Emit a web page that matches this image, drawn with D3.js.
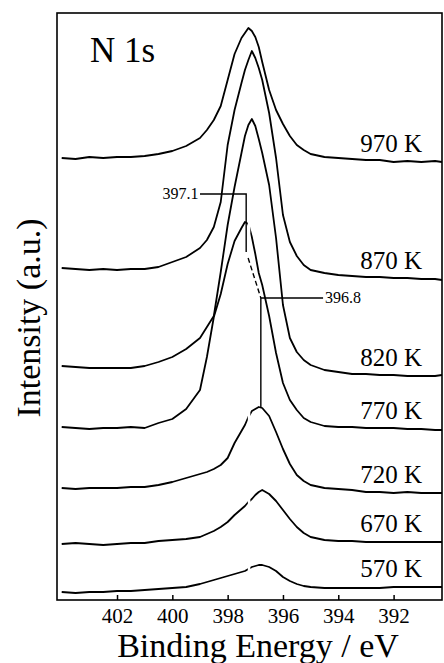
<!DOCTYPE html>
<html>
<head>
<meta charset="utf-8">
<script src="https://cdn.jsdelivr.net/npm/d3@7"></script>
<style>
  body { margin: 0; background: #fff; }
  svg { display: block; }
  svg text { font-family: "Liberation Serif", "Times New Roman", serif; fill: #000; }
</style>
</head>
<body>
<div id="chartCtn"></div>
<script>
// binding energy grid (eV), shared by all spectra
var energies = [404, 403.5, 403, 402.5, 402, 401.5, 401, 400.5, 400, 399.5,
	399, 398.75, 398.5, 398.25, 398, 397.75, 397.5, 397.375, 397.25, 397.125,
	397, 396.875, 396.75, 396.5, 396.25, 396, 395.75, 395.5, 395.25, 395,
	394.5, 394, 393.5, 393, 392.5, 392, 391.5, 391, 390.5, 390.25];

var temps = [ "970 K", "870 K", "820 K", "770 K", "720 K", "670 K", "570 K" ];

// intensities (a.u., stacked offsets included)
var n970 = [442, 441, 443, 442, 443, 443, 444, 446, 449, 454, 462, 470, 480, 494, 520, 546, 562, 567, 572, 569,
	563, 553, 538, 510, 490, 476, 464, 455, 450, 446, 443, 442, 441, 440, 440, 438, 439, 438, 439, 438];
var n870 = [332, 331, 330, 331, 330, 331, 331, 333, 338, 343, 352, 360, 373, 398, 455, 490, 517, 530, 540, 549,
	542, 532, 520, 487, 442, 385, 358, 344, 335, 330, 327, 325, 324, 323, 323, 322, 322, 321, 321, 320];
var n820 = [234, 233, 232, 232, 232, 232, 234, 238, 243, 251, 262, 273, 284, 328, 375, 413, 447, 464, 475, 481,
	474, 461, 447, 415, 362, 295, 262, 248, 240, 235, 230, 228, 226, 226, 225, 225, 224, 224, 224, 225];
var n770 = [173, 172, 171, 172, 172, 173, 172, 177, 181, 191, 210, 243, 283, 306, 336, 359, 372, 378, 376, 363,
	346, 327, 315, 284, 247, 217, 200, 190, 182, 178, 174, 173, 173, 172, 172, 172, 171, 171, 170, 170];
var n720 = [112, 111, 112, 112, 112, 113, 113, 115, 118, 122, 126, 128, 131, 135, 142, 157, 169, 175, 183, 189,
	191, 193, 192, 184, 168, 151, 136, 125, 119, 115, 112, 111, 110, 108, 108, 107, 108, 107, 107, 107];
var n670 = [56, 57, 56, 55, 56, 57, 57, 59, 60, 61, 63, 66, 69, 73, 78, 85, 91, 94, 98, 101,
	105, 108, 110, 106, 99, 90, 81, 73, 67, 63, 60, 59, 59, 58, 58, 58, 58, 58, 58, 58];
var n570 = [8, 7, 8, 8, 9, 9, 10, 11, 12, 13, 16, 18, 20, 22, 24, 26, 28, 29, 31, 33,
	34, 35, 35, 33, 29, 23, 19, 16, 14, 13, 12, 12, 12, 12, 12, 13, 13, 13, 13, 13];

var spectra = [ n970, n870, n820, n770, n720, n670, n570 ];
var xTicks = [ 402, 400, 398, 396, 394, 392 ];

var width = 444, height = 663;
var serif = "Liberation Serif";

var x = d3.scaleLinear()
	.domain( [ 404.17, 390.25 ] )
	.range( [ 57, 442 ] );

var y = d3.scaleLinear()
	.domain( [ 0, 587 ] )
	.range( [ 600, 13 ] );

var svg = d3.select( "#chartCtn" )
	.append( "svg" )
	.attr( "width", width )
	.attr( "height", height );

svg.append( "clipPath" ).attr( "id", "plotClip" )
	.append( "rect" )
	.attr( "x", 57 ).attr( "y", 13 )
	.attr( "width", 385 ).attr( "height", 587 );

var line = d3.line()
	.x( ( d, i ) => x( energies[ i ] ) )
	.y( d => y( d ) );

var plot = svg.append( "g" ).attr( "clip-path", "url(#plotClip)" );

plot.selectAll( "path.spec" )
	.data( spectra )
	.enter()
	.append( "path" )
	.attr( "class", "spec" )
	.attr( "d", line )
	.attr( "fill", "none" )
	.attr( "stroke", "#000" )
	.attr( "stroke-width", 1.8 )
	.attr( "stroke-linejoin", "round" );

// thin white scan gap running down the lower part of the figure
plot.append( "rect" )
	.attr( "x", x( 397.27 ) )
	.attr( "y", y( 380 ) )
	.attr( "width", 2.5 )
	.attr( "height", y( -5 ) - y( 380 ) )
	.attr( "fill", "#fff" );

// temperature labels
svg.selectAll( "text.temp" )
	.data( temps )
	.enter()
	.append( "text" )
	.attr( "class", "temp" )
	.attr( "x", 422 )
	.attr( "y", ( d, i ) => y( spectra[ i ][ 37 ] ) - 10 )
	.attr( "text-anchor", "end" )
	.attr( "font-family", serif )
	.style( "font-size", "25px" )
	.text( d => d );

// peak position markers
var ann = svg.append( "g" )
	.attr( "fill", "none" )
	.attr( "stroke", "#000" )
	.attr( "stroke-width", 1.4 );

ann.append( "path" )
	.attr( "d", d3.line()( [ [ x( 399.0 ), y( 406 ) ], [ x( 397.33 ), y( 406 ) ], [ x( 397.33 ), y( 348 ) ] ] ) );
ann.append( "path" )
	.attr( "stroke-dasharray", "5,3" )
	.attr( "d", d3.line()( [ [ x( 397.26 ), y( 342 ) ], [ x( 396.8 ), y( 302 ) ] ] ) );
ann.append( "path" )
	.attr( "d", d3.line()( [ [ x( 394.55 ), y( 302 ) ], [ x( 396.8 ), y( 302 ) ], [ x( 396.8 ), y( 193 ) ] ] ) );

svg.append( "text" )
	.attr( "x", x( 399.05 ) ).attr( "y", y( 406 ) + 5 )
	.attr( "text-anchor", "end" )
	.attr( "font-family", serif )
	.style( "font-size", "16px" )
	.text( "397.1" );
svg.append( "text" )
	.attr( "x", x( 394.48 ) ).attr( "y", y( 302 ) + 5 )
	.attr( "font-family", serif )
	.style( "font-size", "16px" )
	.text( "396.8" );

// frame
svg.append( "rect" )
	.attr( "x", 57 ).attr( "y", 13 )
	.attr( "width", 385 ).attr( "height", 587 )
	.attr( "fill", "none" )
	.attr( "stroke", "#000" )
	.attr( "stroke-width", 1.6 );

var xAxis = svg.append( "g" )
	.attr( "transform", "translate(0,600)" )
	.call( d3.axisBottom( x ).tickValues( xTicks ).tickSize( -5 ).tickFormat( d3.format( "d" ) ) );
xAxis.attr( "font-family", serif );
xAxis.select( ".domain" ).remove();
xAxis.selectAll( "line" ).attr( "stroke-width", 1.5 );
xAxis.selectAll( "text" )
	.attr( "font-family", serif )
	.attr( "dy", null )
	.attr( "y", 23 )
	.style( "font-size", "21px" )
	.attr( "fill", "#000" );

svg.append( "text" )
	.attr( "x", 258 ).attr( "y", 657 )
	.attr( "text-anchor", "middle" )
	.attr( "font-family", serif )
	.style( "font-size", "34px" )
	.text( "Binding Energy / eV" );

svg.append( "text" )
	.attr( "transform", "translate(40,318) rotate(-90)" )
	.attr( "text-anchor", "middle" )
	.attr( "font-family", serif )
	.style( "font-size", "34px" )
	.text( "Intensity (a.u.)" );

svg.append( "text" )
	.attr( "x", 90 ).attr( "y", 62 )
	.attr( "font-family", serif )
	.style( "font-size", "35px" )
	.text( "N 1s" );
</script>
</body>
</html>
